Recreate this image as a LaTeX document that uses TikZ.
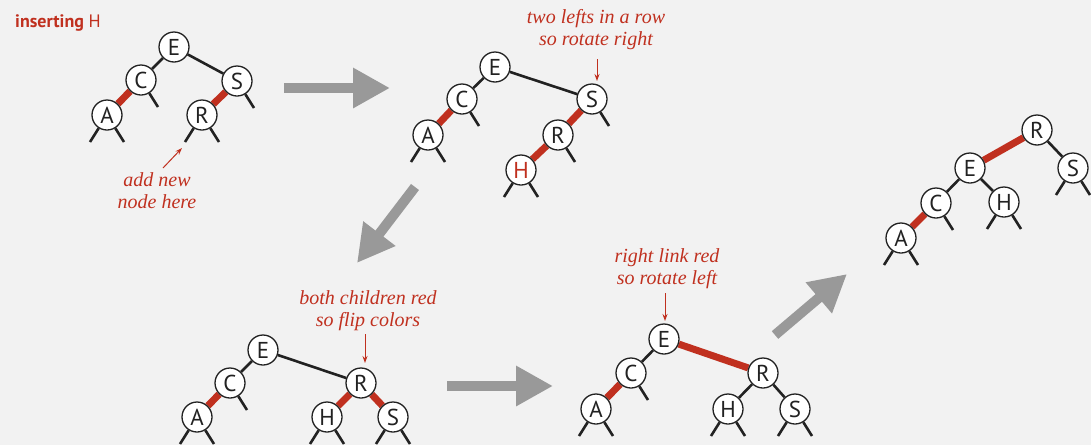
\documentclass[tikz,border=0pt]{standalone}
\usepackage{fontspec}
\setmainfont{Liberation Serif}
\newfontfamily\lbl{PT Sans}
\usetikzlibrary{arrows.meta,calc,backgrounds}
\definecolor{rd}{HTML}{C0301F}
\definecolor{bg}{HTML}{F2F2F2}
\definecolor{ink}{HTML}{222222}
\definecolor{gr}{HTML}{999999}
\tikzset{
 nd/.style={circle,draw=ink,line width=1.3pt,fill=white,minimum size=30pt,inner sep=0pt,font=\lbl\fontsize{23}{23}\selectfont,text=ink},
 blk/.style={draw=ink,line width=2.6pt},
 redl/.style={draw=rd,line width=7pt},
 note/.style={align=center,text=rd,font=\itshape\fontsize{20}{22}\selectfont,inner sep=0pt},
 notearrow/.style={draw=rd,line width=1pt,-{Stealth[length=7pt,width=5pt]}},
 bigarrow/.style={draw=gr,line width=10pt,-{Triangle[length=37pt,width=38pt]}},
}
\newcommand\stubL[1]{\coordinate (#1l) at ($(#1)+(-17,27)$);\draw[blk] (#1) -- (#1l);}
\newcommand\stubR[1]{\coordinate (#1r) at ($(#1)+(17,27)$);\draw[blk] (#1) -- (#1r);}
\begin{document}
\begin{tikzpicture}[x=1pt,y=-1pt]
\begin{pgfonlayer}{background}
\fill[bg] (0,0) rectangle (1091,445);
\end{pgfonlayer}
\useasboundingbox (0,0) rectangle (1091,445);

\node[anchor=base west,text=rd,font=\lbl\fontsize{18}{18}\selectfont,inner sep=0pt] (title) at (15,27) {\bfseries inserting \mdseries H};

% ---- tree 1
\node[nd] (aE) at (174,47) {E};
\node[nd] (aC) at (141,80) {C};
\node[nd] (aS) at (237,81) {S};
\node[nd] (aA) at (107,115) {A};
\node[nd] (aR) at (202,115) {R};
\begin{pgfonlayer}{background}
\draw[blk] (aE) -- (aC);
\draw[blk] (aE) -- (aS);
\draw[redl] (aC) -- (aA);
\draw[redl] (aS) -- (aR);
\end{pgfonlayer}
\stubR{aC}\stubR{aS}\stubL{aA}\stubR{aA}\stubL{aR}\stubR{aR}
\node[note] (n1) at (157,191) {add new\\node here};
\coordinate (n1a) at (163,168);
\coordinate (n1b) at (182,148);
\draw[notearrow] (n1a) -- (n1b);

% ---- tree 2
\node[nd] (bE) at (495,67) {E};
\node[nd] (bC) at (462,99) {C};
\node[nd] (bA) at (428,135) {A};
\node[nd] (bS) at (592,99) {S};
\node[nd] (bR) at (558,135) {R};
\node[nd,text=rd] (bH) at (521,170) {H};
\begin{pgfonlayer}{background}
\draw[blk] (bE) -- (bC);
\draw[blk] (bE) -- (bS);
\draw[redl] (bC) -- (bA);
\draw[redl] (bS) -- (bR);
\draw[redl] (bR) -- (bH);
\end{pgfonlayer}
\stubR{bC}\stubL{bA}\stubR{bA}\stubR{bS}\stubR{bR}\stubL{bH}\stubR{bH}
\node[note] (n2) at (596,30) {two lefts in a row\\so rotate right};
\coordinate (n2a) at (597,59);
\coordinate (n2b) at (597,81);
\draw[notearrow] (n2a) -- (n2b);

% ---- tree 3 (final)
\node[nd] (cR) at (1037,130) {R};
\node[nd] (cE) at (970,168) {E};
\node[nd] (cS) at (1073,168) {S};
\node[nd] (cC) at (936,203) {C};
\node[nd] (cH) at (1004,202) {H};
\node[nd] (cA) at (901,238) {A};
\begin{pgfonlayer}{background}
\draw[redl] (cR) -- (cE);
\draw[blk] (cR) -- (cS);
\draw[blk] (cE) -- (cC);
\draw[blk] (cE) -- (cH);
\draw[redl] (cC) -- (cA);
\end{pgfonlayer}
\stubL{cS}\stubR{cS}\stubR{cC}\stubL{cH}\stubR{cH}\stubL{cA}\stubR{cA}

% ---- tree 4 (flip colors)
\node[nd] (dE) at (263,350) {E};
\node[nd] (dC) at (230,383) {C};
\node[nd] (dA) at (197,417) {A};
\node[nd] (dR) at (361,383) {R};
\node[nd] (dH) at (327,417) {H};
\node[nd] (dS) at (393,417) {S};
\begin{pgfonlayer}{background}
\draw[blk] (dE) -- (dC);
\draw[redl] (dC) -- (dA);
\draw[blk] (dE) -- (dR);
\draw[redl] (dR) -- (dH);
\draw[redl] (dR) -- (dS);
\end{pgfonlayer}
\stubR{dC}\stubL{dA}\stubR{dA}\stubL{dH}\stubR{dH}\stubL{dS}\stubR{dS}
\node[note] (n3) at (368,311) {both children red\\so flip colors};
\coordinate (n3a) at (365,334);
\coordinate (n3b) at (365,363);
\draw[notearrow] (n3a) -- (n3b);

% ---- tree 5 (rotate left)
\node[nd] (eE) at (664,339) {E};
\node[nd] (eC) at (631,373) {C};
\node[nd] (eA) at (596,409) {A};
\node[nd] (eR) at (763,373) {R};
\node[nd] (eH) at (728,409) {H};
\node[nd] (eS) at (795,409) {S};
\begin{pgfonlayer}{background}
\draw[blk] (eE) -- (eC);
\draw[redl] (eC) -- (eA);
\draw[redl] (eE) -- (eR);
\draw[blk] (eR) -- (eH);
\draw[blk] (eR) -- (eS);
\end{pgfonlayer}
\stubR{eC}\stubL{eA}\stubR{eA}\stubL{eH}\stubR{eH}\stubL{eS}\stubR{eS}
\node[note] (n4) at (667,269) {right link red\\so rotate left};
\coordinate (n4a) at (665,293);
\coordinate (n4b) at (665,321);
\draw[notearrow] (n4a) -- (n4b);

% ---- big gray arrows
\coordinate (g1a) at (284,88);  \coordinate (g1b) at (390,88);
\coordinate (g2a) at (415,187); \coordinate (g2b) at (357,263);
\coordinate (g3a) at (447,386); \coordinate (g3b) at (553,386);
\coordinate (g4a) at (775,335); \coordinate (g4b) at (847,274);
\draw[bigarrow] (g1a) -- (g1b);
\draw[bigarrow] (g2a) -- (g2b);
\draw[bigarrow] (g3a) -- (g3b);
\draw[bigarrow] (g4a) -- (g4b);
\end{tikzpicture}
\end{document}
